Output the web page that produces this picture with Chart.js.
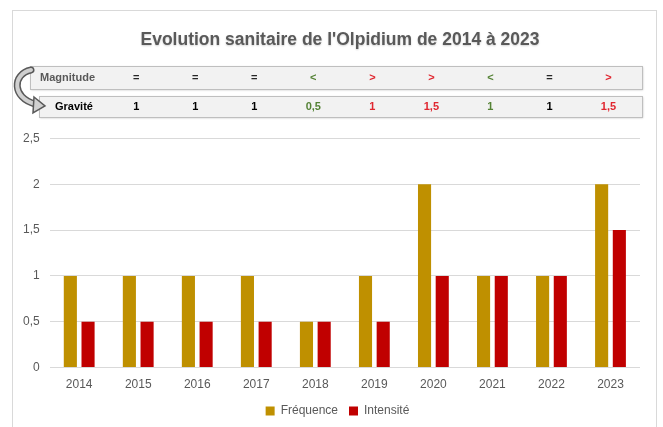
<!DOCTYPE html>
<html>
<head>
<meta charset="utf-8">
<script src="https://cdn.jsdelivr.net/npm/chart.js@4.4.1/dist/chart.umd.min.js"></script>
<style>
html,body{margin:0;padding:0;background:#fff;}
#wrap{width:663px;height:427px;position:relative;}
</style>
</head>
<body>
<div id="wrap"><canvas id="c" width="663" height="427"></canvas></div>
<script>
const years = ['2014','2015','2016','2017','2018','2019','2020','2021','2022','2023'];
const frequence = [1, 1, 1, 1, 0.5, 1, 2, 1, 1, 2];
const intensite = [0.5, 0.5, 0.5, 0.5, 0.5, 0.5, 1, 1, 1, 1.5];
const yTicks = [0, 0.5, 1, 1.5, 2, 2.5];
// Table rows (years 2015..2023)
const magnitude = ['=', '=', '=', '<', '>', '>', '<', '=', '>'];
const gravite = ['1', '1', '1', '0,5', '1', '1,5', '1', '1', '1,5'];
const titleText = "Evolution sanitaire de l'Olpidium de 2014 à 2023";

const symColor = s => s === '<' ? '#548235' : (s === '>' ? '#e0262f' : '#262626');

const decor = {
  id: 'decor',
  afterLayout(chart) {
    if (chart.legend) { chart.legend.left += 11; chart.legend.right += 11; }
  },
  beforeDraw(chart) {
    const ctx = chart.ctx;
    ctx.save();
    ctx.fillStyle = '#fff';
    ctx.fillRect(0, 0, chart.width, chart.height);
    ctx.strokeStyle = '#d9d9d9';
    ctx.lineWidth = 1;
    ctx.strokeRect(12.5, 10.5, 644, 440);
    ctx.restore();
  },
  afterDraw(chart) {
    const ctx = chart.ctx;
    const xs = chart.scales.x;
    ctx.save();
    // title
    ctx.save();
    ctx.font = 'bold 17.5px "Liberation Sans", Arial, sans-serif';
    ctx.textAlign = 'center';
    ctx.textBaseline = 'middle';
    ctx.shadowColor = 'rgba(0,0,0,0.18)';
    ctx.shadowBlur = 2;
    ctx.shadowOffsetY = 1;
    ctx.fillStyle = '#595959';
    ctx.fillText(titleText, 340, 40);
    ctx.restore();
    // boxes
    function box(x, y, w, h) {
      ctx.save();
      ctx.shadowColor = 'rgba(0,0,0,0.25)';
      ctx.shadowBlur = 2;
      ctx.shadowOffsetX = 1;
      ctx.shadowOffsetY = 1;
      ctx.fillStyle = '#f2f2f2';
      ctx.fillRect(x, y, w, h);
      ctx.restore();
      ctx.strokeStyle = '#bfbfbf';
      ctx.lineWidth = 1;
      ctx.strokeRect(x + 0.5, y + 0.5, w, h);
    }
    box(30, 66, 612, 23);
    box(39, 96, 603, 21);
    // arrow
    ctx.lineCap = 'round';
    const curve = () => { ctx.beginPath(); ctx.moveTo(31, 70); ctx.bezierCurveTo(12, 74, 12, 98, 35, 104); };
    curve(); ctx.strokeStyle = '#595959'; ctx.lineWidth = 7; ctx.stroke();
    curve(); ctx.strokeStyle = '#d0d0d0'; ctx.lineWidth = 4; ctx.stroke();
    ctx.beginPath();
    ctx.moveTo(34, 97);
    ctx.lineTo(45, 106);
    ctx.lineTo(33, 113);
    ctx.closePath();
    ctx.fillStyle = '#d0d0d0';
    ctx.fill();
    ctx.strokeStyle = '#595959';
    ctx.lineWidth = 1.5;
    ctx.stroke();
    // labels
    ctx.textBaseline = 'middle';
    ctx.textAlign = 'left';
    ctx.font = 'bold 11px "Liberation Sans", Arial, sans-serif';
    ctx.fillStyle = '#595959';
    ctx.fillText('Magnitude', 40, 78);
    ctx.fillStyle = '#000';
    ctx.fillText('Gravité', 55, 107);
    ctx.textAlign = 'center';
    for (let i = 0; i < magnitude.length; i++) {
      const x = xs.getPixelForValue(i + 1) - 2;
      ctx.fillStyle = symColor(magnitude[i]);
      ctx.font = 'bold 11px "Liberation Sans", Arial, sans-serif';
      ctx.fillText(magnitude[i], x, 78);
      ctx.font = 'bold 11px "Liberation Sans Narrow", "Liberation Sans", Arial, sans-serif';
      ctx.fillStyle = magnitude[i] === '=' ? '#000' : symColor(magnitude[i]);
      ctx.fillText(gravite[i], x, 107);
    }
    ctx.restore();
  }
};

new Chart(document.getElementById('c'), {
  type: 'bar',
  data: {
    labels: years,
    datasets: [
      { label: 'Fréquence', data: frequence, backgroundColor: '#bf9000', categoryPercentage: 0.6, barPercentage: 0.74 },
      { label: 'Intensité', data: intensite, backgroundColor: '#c00000', categoryPercentage: 0.6, barPercentage: 0.74 }
    ]
  },
  options: {
    responsive: false,
    animation: false,
    layout: { padding: { left: 13, right: 23, top: 0, bottom: 0 } },
    scales: {
      x: {
        grid: { display: false },
        border: { display: false },
        ticks: { color: '#595959', font: { size: 12, family: '"Liberation Sans", Arial, sans-serif' }, padding: 2 }
      },
      y: {
        min: 0, max: 2.5,
        afterBuildTicks(axis) { axis.ticks = yTicks.map(v => ({ value: v })); },
        grid: { color: '#d9d9d9', drawTicks: false },
        border: { display: false },
        ticks: {
          color: '#595959', padding: 10,
          font: { size: 12, family: '"Liberation Sans", Arial, sans-serif' },
          callback: v => String(v).replace('.', ',')
        }
      }
    },
    plugins: {
      title: {
        display: true, text: ' ', color: '#595959',
        font: { size: 17, weight: 'bold', family: '"Liberation Sans", Arial, sans-serif' },
        padding: { top: 29, bottom: 89 }
      },
      legend: {
        position: 'bottom',
        labels: { color: '#595959', boxWidth: 9, boxHeight: 9, padding: 11,
          font: { size: 12, family: '"Liberation Sans", Arial, sans-serif' } }
      },
      tooltip: { enabled: false }
    }
  },
  plugins: [decor]
});
</script>
</body>
</html>
